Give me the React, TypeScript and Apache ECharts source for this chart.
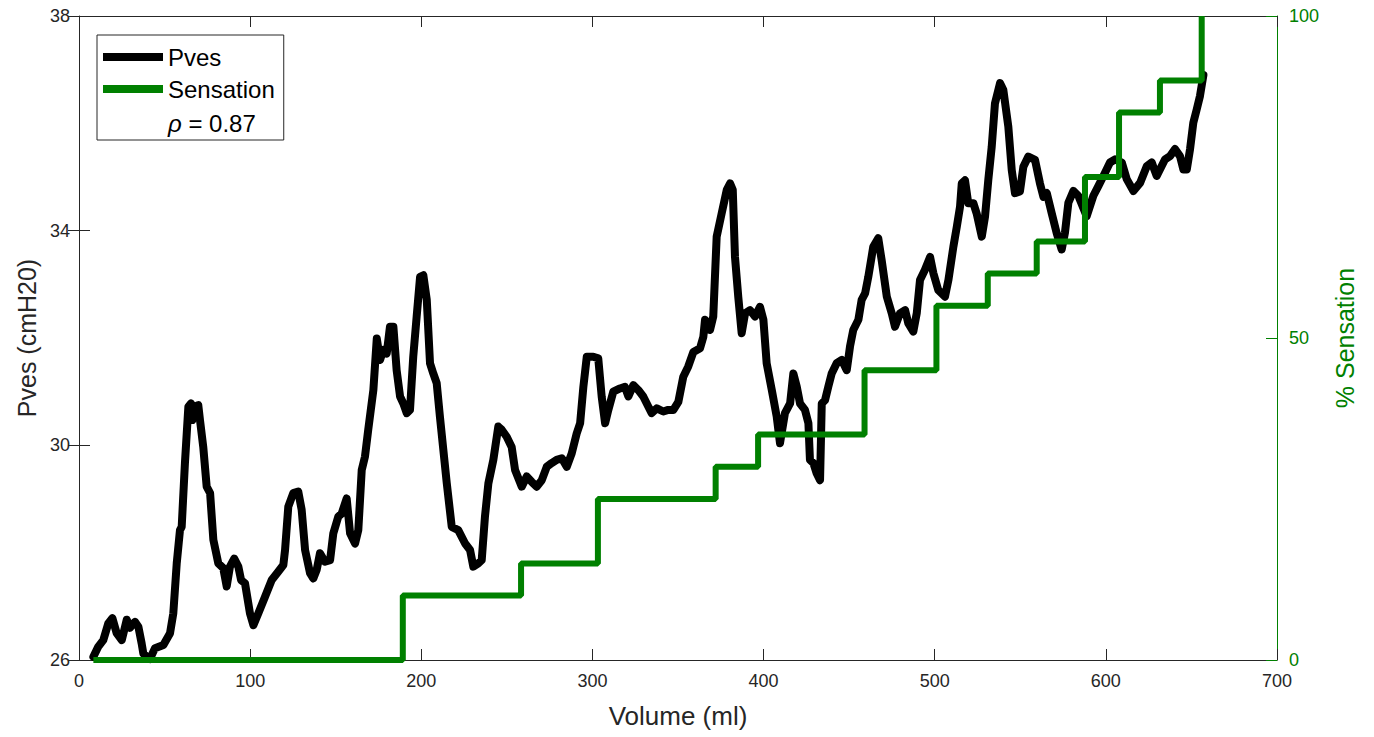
import React, { useEffect, useRef } from "react";
import * as echarts from "echarts";

// Volume (ml) vs bladder pressure Pves (cmH2O)
const pves: [number, number][] = [
  [8.4, 26.06], [11.3, 26.25], [14.2, 26.37], [17.1, 26.68], [19.5, 26.78], [22.0, 26.5], [25.0, 26.37],
  [27.9, 26.75], [29.8, 26.6], [32.7, 26.71], [34.7, 26.62], [36.6, 26.31], [37.6, 26.12], [39.6, 26.06],
  [41.5, 26.02], [44.4, 26.22], [49.3, 26.28], [53.2, 26.5], [55.1, 26.87], [57.1, 27.8], [59.0, 28.42],
  [60.0, 28.48], [61.9, 29.67], [63.9, 30.72], [65.4, 30.78], [66.2, 30.47], [67.8, 30.72], [69.7, 30.75],
  [70.7, 30.47], [72.6, 29.97], [74.6, 29.23], [76.6, 29.11], [78.5, 28.24], [81.4, 27.8], [84.3, 27.71],
  [86.3, 27.37], [88.2, 27.74], [90.7, 27.89], [93.1, 27.74], [94.7, 27.49], [97.0, 27.43], [99.9, 26.87],
  [101.9, 26.65], [104.8, 26.87], [108.7, 27.18], [112.6, 27.49], [116.5, 27.65], [119.4, 27.77],
  [120.4, 28.05], [122.3, 28.86], [125.2, 29.11], [128.1, 29.14], [130.1, 28.8], [132.1, 28.05], [135.0, 27.62],
  [136.9, 27.52], [138.9, 27.68], [140.8, 27.99], [143.7, 27.83], [146.7, 27.86], [148.6, 28.36], [151.5, 28.67],
  [153.5, 28.73], [156.4, 29.01], [158.4, 28.36], [161.3, 28.17], [163.2, 28.42], [165.2, 29.54], [167.1, 29.79],
  [169.0, 30.29], [172.0, 31.03], [174.0, 31.99], [175.9, 31.59], [177.8, 31.78], [179.8, 31.71], [181.7, 32.21],
  [183.7, 32.21], [185.6, 31.4], [187.6, 30.91], [189.5, 30.78], [191.5, 30.6], [193.4, 30.66], [195.3, 31.65],
  [197.3, 32.4], [199.3, 33.14], [201.2, 33.17], [203.2, 32.71], [205.1, 31.53], [207.0, 31.34], [209.0, 31.16],
  [210.9, 30.53], [214.9, 29.29], [217.8, 28.48], [221.6, 28.42], [225.6, 28.17], [228.5, 28.05], [230.4, 27.74],
  [233.3, 27.8], [235.3, 27.86], [237.2, 28.67], [239.2, 29.29], [242.1, 29.73], [245.0, 30.35], [247.0, 30.29],
  [249.9, 30.16], [252.8, 29.97], [254.8, 29.54], [258.7, 29.23], [261.6, 29.42], [264.5, 29.32], [267.4, 29.23],
  [270.4, 29.35], [273.3, 29.6], [276.2, 29.67], [279.1, 29.73], [282.1, 29.76], [285.0, 29.6], [287.9, 29.85],
  [290.8, 30.22], [292.8, 30.41], [294.7, 31.09], [296.7, 31.65], [300.5, 31.65], [303.4, 31.62], [305.4, 30.91],
  [307.4, 30.41], [309.3, 30.66], [312.2, 31.0], [316.1, 31.06], [319.0, 31.09], [321.0, 30.91], [323.9, 31.12],
  [326.8, 31.03], [329.7, 30.91], [332.7, 30.72], [334.6, 30.6], [337.6, 30.69], [341.4, 30.63], [344.3, 30.66],
  [347.3, 30.66], [350.2, 30.81], [353.1, 31.28], [356.0, 31.47], [359.0, 31.74], [362.9, 31.81], [364.8, 32.02],
  [365.8, 32.34], [368.7, 32.15], [370.6, 32.4], [372.6, 33.89], [375.5, 34.32], [378.5, 34.76], [380.4, 34.88],
  [382.0, 34.76], [383.3, 33.51], [385.2, 32.77], [387.2, 32.09], [389.2, 32.46], [392.1, 32.52], [395.0, 32.4],
  [397.9, 32.58], [399.9, 32.34], [401.8, 31.53], [404.8, 31.03], [407.7, 30.53], [409.6, 30.04], [412.5, 30.6],
  [415.5, 30.78], [417.4, 31.34], [419.4, 31.09], [421.3, 30.78], [424.2, 30.66], [426.2, 30.41], [427.1, 29.73],
  [429.1, 29.67], [431.0, 29.48], [433.0, 29.35], [434.0, 30.78], [435.9, 30.84], [437.8, 31.09], [439.8, 31.34],
  [442.7, 31.53], [445.7, 31.59], [448.6, 31.4], [450.5, 31.84], [452.4, 32.15], [455.4, 32.34], [457.3, 32.71],
  [459.3, 32.83], [461.2, 33.14], [464.1, 33.7], [467.0, 33.86], [469.0, 33.45], [472.0, 32.77], [474.9, 32.46],
  [476.8, 32.21], [479.7, 32.46], [482.7, 32.52], [484.6, 32.27], [487.5, 32.12], [489.5, 32.46], [491.4, 33.08],
  [494.3, 33.27], [497.3, 33.51], [499.2, 33.21], [502.1, 32.89], [506.0, 32.77], [508.0, 33.08], [510.9, 33.7],
  [512.9, 34.07], [514.8, 34.45], [515.8, 34.88], [517.7, 34.94], [519.6, 34.51], [522.6, 34.51], [524.5, 34.32],
  [527.5, 33.89], [529.4, 34.26], [531.3, 34.94], [533.3, 35.56], [535.2, 36.37], [538.2, 36.75], [540.1, 36.62],
  [543.0, 35.94], [545.0, 35.13], [546.9, 34.7], [549.8, 34.73], [551.8, 35.19], [554.7, 35.38], [558.6, 35.32],
  [561.5, 34.88], [563.5, 34.63], [565.5, 34.7], [568.4, 34.32], [571.3, 33.95], [574.2, 33.65], [576.1, 33.96],
  [578.1, 34.52], [581.0, 34.74], [583.9, 34.65], [588.8, 34.27], [592.7, 34.65], [595.6, 34.83], [599.5, 35.08],
  [602.4, 35.27], [605.4, 35.33], [609.3, 35.27], [612.2, 34.96], [616.1, 34.74], [620.0, 34.89], [623.9, 35.2],
  [626.8, 35.27], [629.7, 35.02], [634.6, 35.33], [637.5, 35.39], [640.4, 35.52], [643.3, 35.39], [645.3, 35.14],
  [647.3, 35.14], [649.2, 35.52], [651.1, 36.01], [653.1, 36.26], [655.0, 36.51], [657.0, 36.9],
];

// Volume (ml) at which sensation level (%) changes
const sensation: [number, number][] = [
  [8.4, 0], [189.2, 10], [258.3, 15], [303.2, 25], [372.0, 30], [396.8, 35], [459.0, 45],
  [501.0, 55], [531.0, 60], [559.6, 65], [587.8, 75], [607.7, 85], [631.6, 90], [656.0, 100],
];

const rhoText = "0.87";
const xName = "Volume (ml)";
const yLeftName = "Pves (cmH20)";
const yRightName = "% Sensation";

const FONT = "'Liberation Sans', Arial, Helvetica, sans-serif";
const AX = "#262626";
const GREEN = "#008000";

export default function App() {
  const ref = useRef<HTMLDivElement>(null);
  useEffect(() => {
    if (!ref.current) return;
    const chart = echarts.init(ref.current, null, { renderer: "svg" });
    chart.setOption({
      animation: false,
      backgroundColor: "#ffffff",
      textStyle: { fontFamily: FONT },
      grid: { left: 79, right: 97, top: 16, bottom: 77, containLabel: false, outerBoundsMode: "none" },
      legend: {
        show: true,
        orient: "vertical",
        left: 97,
        top: 35,
        selectedMode: false,
        icon: "rect",
        itemWidth: 60,
        itemHeight: 8,
        itemGap: 8,
        padding: [10, 9, 39, 6],
        borderColor: AX,
        borderWidth: 1,
        backgroundColor: "#ffffff",
        textStyle: { fontSize: 24, color: "#000", fontFamily: FONT },
        data: ["Pves", "Sensation"],
      },
      graphic: [
        {
          type: "text",
          left: 168,
          top: 111,
          z: 100,
          style: {
            text: "{i|ρ} = " + rhoText,
            fontSize: 24,
            fontFamily: FONT,
            fill: "#000",
            rich: { i: { fontStyle: "italic", fontSize: 24, fontFamily: FONT, fill: "#000" } },
          },
        },
      ],
      xAxis: [
        {
          type: "value",
          position: "bottom",
          min: 0,
          max: 700,
          interval: 100,
          name: xName,
          nameLocation: "middle",
          nameGap: 43,
          nameTextStyle: { fontSize: 26, color: AX, fontFamily: FONT },
          axisLine: { show: true, onZero: false, lineStyle: { color: AX, width: 1 } },
          axisTick: { show: true, inside: true, length: 11, lineStyle: { color: AX } },
          axisLabel: { color: AX, fontSize: 18, margin: 12, fontFamily: FONT },
          splitLine: { show: false },
        },
        {
          type: "value",
          position: "top",
          min: 0,
          max: 700,
          interval: 100,
          axisLine: { show: true, onZero: false, lineStyle: { color: AX, width: 1 } },
          axisTick: { show: true, inside: true, length: 11, lineStyle: { color: AX } },
          axisLabel: { show: false },
          splitLine: { show: false },
        },
      ],
      yAxis: [
        {
          type: "value",
          position: "left",
          min: 26,
          max: 38,
          interval: 4,
          name: yLeftName,
          nameLocation: "middle",
          nameRotate: 90,
          nameGap: 40,
          nameTextStyle: { fontSize: 25, color: AX, fontFamily: FONT },
          axisLine: { show: true, onZero: false, lineStyle: { color: AX, width: 1 } },
          axisTick: { show: true, inside: true, length: 11, lineStyle: { color: AX } },
          axisLabel: { color: AX, fontSize: 18, margin: 9, fontFamily: FONT },
          splitLine: { show: false },
        },
        {
          type: "value",
          position: "right",
          min: 0,
          max: 100,
          interval: 50,
          name: yRightName,
          nameLocation: "middle",
          nameRotate: 90,
          nameGap: 55,
          nameTextStyle: { fontSize: 25, color: GREEN, fontFamily: FONT },
          axisLine: { show: true, onZero: false, lineStyle: { color: GREEN, width: 1 } },
          axisTick: { show: true, inside: true, length: 11, lineStyle: { color: GREEN } },
          axisLabel: { color: GREEN, fontSize: 18, margin: 12, fontFamily: FONT },
          splitLine: { show: false },
        },
        {
          type: "value",
          position: "right",
          min: 26,
          max: 38,
          interval: 4,
          axisLine: { show: false },
          axisTick: { show: true, inside: true, length: 11, lineStyle: { color: AX } },
          axisLabel: { show: false },
          splitLine: { show: false },
        },
      ],
      series: [
        {
          name: "Pves",
          type: "line",
          xAxisIndex: 0,
          yAxisIndex: 0,
          data: pves,
          showSymbol: false,
          symbol: "none",
          color: "#000000",
          lineStyle: { color: "#000000", width: 8, join: "round", cap: "round" },
          z: 2,
        },
        {
          name: "Sensation",
          type: "line",
          xAxisIndex: 0,
          yAxisIndex: 1,
          step: "end",
          data: sensation,
          showSymbol: false,
          symbol: "none",
          color: GREEN,
          lineStyle: { color: GREEN, width: 6 },
          z: 3,
        },
      ],
    });
    return () => chart.dispose();
  }, []);
  return (
    <div
      ref={ref}
      style={{ position: "fixed", left: 0, top: 0, width: 1374, height: 737, background: "#fff" }}
    />
  );
}
